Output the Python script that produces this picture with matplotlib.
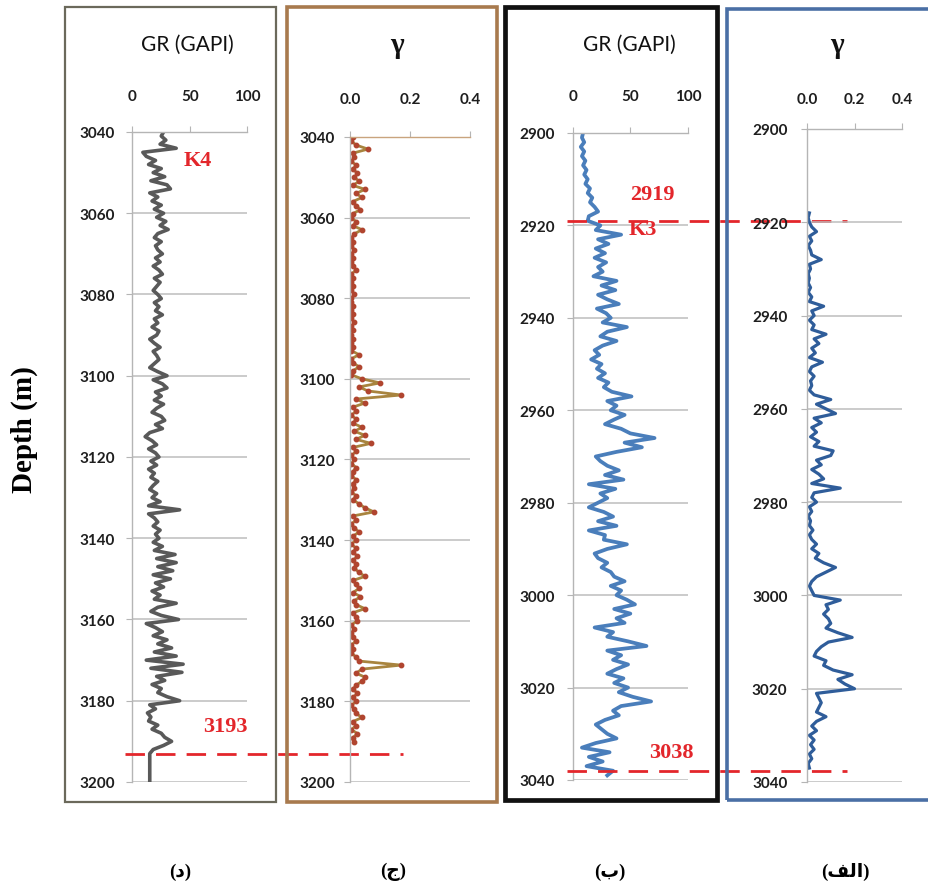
import numpy as np
import matplotlib.pyplot as plt
from matplotlib.patches import Rectangle
from matplotlib.transforms import blended_transform_factory

# --- well D: gamma ray log, 1 m steps from 3040 m ---
gr_d_top = 3040
gr_d = [27, 25, 29, 24, 38, 9, 12, 20, 14, 25,
        18, 28, 16, 30, 33, 15, 22, 17, 25, 19,
        27, 21, 29, 24, 31, 22, 19, 25, 20, 22,
        26, 20, 24, 18, 23, 26, 19, 24, 21, 18,
        22, 25, 19, 23, 20, 26, 19, 22, 17, 23,
        21, 15, 19, 24, 18, 21, 23, 19, 15, 22,
        30, 18, 26, 30, 20, 25, 19, 27, 21, 17,
        25, 28, 20, 26, 15, 11, 17, 21, 14, 20,
        23, 16, 21, 14, 19, 16, 22, 18, 15, 21,
        17, 24, 14, 41, 14, 19, 22, 18, 24, 20,
        23, 18, 26, 19, 37, 21, 38, 22, 35, 18,
        33, 20, 27, 17, 24, 19, 38, 22, 16, 25,
        40, 12, 20, 26, 18, 30, 22, 34, 19, 38,
        12, 44, 16, 43, 21, 28, 17, 25, 22, 30,
        41, 15, 20, 13, 16, 14, 22, 17, 25, 28,
        34, 27, 18, 15, 15, 15, 15, 15, 15, 15, 15]

# --- well D: gamma index ---
gam_d_top = 3040
gam_d = [0.01, 0.005, 0.02, 0.06, 0.01, 0.015, 0.005, 0.02, 0.01, 0.025,
         0.015, 0.03, 0.01, 0.05, 0.02, 0.04, 0.01, 0.02, 0.035, 0.01,
         0.005, 0.02, 0.01, 0.04, 0.015, 0.005, 0.01, 0.005, 0.015, 0.005,
         0.01, 0.005, 0.01, 0.02, 0.005, 0.01, 0.005, 0.01, 0.005, 0.015,
         0.005, 0.005, 0.01, 0.005, 0.01, 0.005, 0.015, 0.005, 0.01, 0.005,
         0.01, 0.005, 0.01, 0.005, 0.03, 0.005, 0.01, 0.03, 0.01, 0.005,
         0.04, 0.1, 0.03, 0.06, 0.17, 0.02, 0.05, 0.01, 0.02, 0.005,
         0.02, 0.01, 0.04, 0.015, 0.05, 0.02, 0.07, 0.01, 0.02, 0.005,
         0.015, 0.005, 0.02, 0.01, 0.005, 0.02, 0.01, 0.015, 0.005, 0.02,
         0.01, 0.03, 0.05, 0.08, 0.01, 0.02, 0.005, 0.015, 0.03, 0.01,
         0.02, 0.005, 0.02, 0.01, 0.025, 0.01, 0.02, 0.015, 0.03, 0.05,
         0.01, 0.02, 0.03, 0.01, 0.035, 0.015, 0.02, 0.05, 0.01, 0.02,
         0.025, 0.005, 0.015, 0.005, 0.01, 0.02, 0.005, 0.01, 0.005, 0.02,
         0.03, 0.17, 0.04, 0.02, 0.05, 0.04, 0.02, 0.01, 0.025, 0.01,
         0.02, 0.005, 0.015, 0.02, 0.04, 0.01, 0.02, 0.005, 0.025, 0.01,
         0.015]

# --- well B: gamma ray log, 1 m steps from 2900 m ---
gr_b_top = 2900
gr_b = [9, 8, 10, 7, 10, 8, 11, 9, 12, 10,
        13, 11, 15, 13, 17, 15, 19, 22, 14, 13,
        24, 20, 42, 22, 31, 20, 28, 19, 29, 22,
        26, 18, 38, 25, 37, 22, 30, 40, 21, 29,
        33, 26, 47, 30, 24, 38, 26, 19, 23, 16,
        25, 21, 28, 22, 31, 27, 34, 51, 30, 38,
        33, 45, 36, 28, 42, 50, 71, 45, 60, 38,
        20, 24, 30, 40, 28, 44, 14, 37, 24, 30,
        22, 14, 27, 35, 22, 38, 14, 28, 27, 47,
        30, 19, 22, 30, 25, 33, 36, 45, 33, 42,
        38, 47, 54, 36, 50, 38, 45, 19, 35, 30,
        48, 64, 30, 42, 35, 48, 38, 30, 44, 36,
        48, 40, 52, 68, 42, 35, 40, 28, 20, 25,
        30, 38, 20, 8, 32, 14, 26, 12, 35, 30]

# --- well B: gamma index, from 2918 m ---
gam_b_top = 2918
gam_b = [0.01, 0.005, 0.01, 0.02, 0.04, 0.01, 0.02, 0.005, 0.015, 0.02,
         0.06, 0.01, 0.015, 0.005, 0.01, 0.005, 0.015, 0.005, 0.02, 0.01,
         0.07, 0.02, 0.03, 0.01, 0.03, 0.02, 0.08, 0.03, 0.05, 0.02,
         0.035, 0.01, 0.065, 0.02, 0.01, 0.03, 0.015, 0.02, 0.01, 0.03,
         0.1, 0.04, 0.08, 0.12, 0.03, 0.06, 0.02, 0.04, 0.015, 0.05,
         0.03, 0.11, 0.1, 0.04, 0.06, 0.02, 0.05, 0.07, 0.02, 0.14,
         0.03, 0.02, 0.04, 0.01, 0.02, 0.005, 0.015, 0.01, 0.025, 0.01,
         0.02, 0.04, 0.02, 0.05, 0.035, 0.07, 0.12, 0.08, 0.04, 0.02,
         0.01, 0.02, 0.03, 0.14, 0.08, 0.09, 0.07, 0.09, 0.1, 0.08,
         0.13, 0.19, 0.09, 0.06, 0.04, 0.03, 0.08, 0.07, 0.11, 0.19,
         0.13, 0.16, 0.2, 0.04, 0.05, 0.06, 0.05, 0.04, 0.08, 0.04,
         0.02, 0.04, 0.01, 0.03, 0.015, 0.03, 0.01, 0.02, 0.005, 0.01]

# formation boundaries (m)
top_k3, base_k3 = 2919, 3038
base_k4 = 3193

# bottom captions, written in display order
captions = ['(\u062f)', '(\u062c)', '(\u0628)', '(\ufed2\ufedf\u0627)']

red = '#e3262b'

fig = plt.figure(figsize=(9.29, 8.95), dpi=100)
W, H = 929, 895


def px_axes(x0, x1, y0, y1):
    return fig.add_axes([x0 / W, 1 - y1 / H, (x1 - x0) / W, (y1 - y0) / H])


def style_panel(ax, xmax, xticks, xlabels, top, bottom, top_color, xpad, ypad):
    ax.set_xlim(0, xmax)
    ax.set_ylim(bottom, top)
    ax.set_yticks(range(top, bottom + 1, 20))
    ax.set_xticks(xticks)
    ax.set_xticklabels(xlabels)
    ax.xaxis.tick_top()
    ax.set_facecolor('none')
    ax.spines['right'].set_visible(False)
    ax.spines['bottom'].set_visible(False)
    ax.spines['left'].set_color('#b5b5b5')
    ax.spines['top'].set_color(top_color)
    for s in ('left', 'top'):
        ax.spines[s].set_linewidth(1.0)
    ax.grid(axis='y', color='#bdbdbd', lw=1.1)
    ax.grid(axis='x', visible=False)
    ax.tick_params(axis='y', length=4, color='#b5b5b5', pad=ypad, labelsize=11, labelcolor='#1e1e1e')
    ax.tick_params(axis='x', length=4, color='#b5b5b5', pad=xpad, labelsize=11, labelcolor='#1e1e1e')
    for lab in ax.get_xticklabels() + ax.get_yticklabels():
        lab.set_fontfamily('Lato')
        lab.set_fontweight('bold')


# frames around each well panel
frames = [((65, 8, 276, 803), '#6b695b', 1.6),
          ((287, 8, 497, 803), '#a87a4e', 2.6),
          ((505, 8, 717, 801), '#111111', 3.4),
          ((727, 10, 940, 801), '#4a6fa5', 2.6)]
for (x0, y0, x1, y1), col, lw in frames:
    fig.patches.append(Rectangle((x0 / W, 1 - y1 / H), (x1 - x0) / W, (y1 - y0) / H,
                                 transform=fig.transFigure, fill=False,
                                 edgecolor=col, lw=lw, zorder=0))

title_kw = dict(ha='center', va='center', fontsize=15, family='Lato', color='#111111')
gamma_kw = dict(ha='center', va='center', fontsize=21, family='Liberation Serif',
                weight='bold', color='#111111')

# (d) gamma ray
ax_d = px_axes(132.5, 247.5, 133, 783)
style_panel(ax_d, 100, [0, 50, 100], ['0', '50', '100'], 3040, 3200, '#b5b5b5', 17, 8.5)
depth = gr_d_top + np.arange(len(gr_d))
ax_d.plot(gr_d, depth, color='#595959', lw=2.6)
ax_d.text(0.48, 1.135, 'GR (GAPI)', transform=ax_d.transAxes, **title_kw)

# (c) gamma index
ax_c = px_axes(350, 470, 138, 783)
style_panel(ax_c, 0.4, [0, 0.2, 0.4], ['0.0', '0.2', '0.4'], 3040, 3200, '#c9a47e', 18, 7)
depth = gam_d_top + np.arange(len(gam_d))
ax_c.plot(gam_d, depth, color='#a8843e', lw=2.0, marker='o', ms=3.2,
          mfc='#b0452f', mec='#b0452f')
ax_c.text(0.39, 1.143, '\u03b3', transform=ax_c.transAxes, **gamma_kw)

# (b) gamma ray
ax_b = px_axes(572.7, 688, 134, 781)
style_panel(ax_b, 100, [0, 50, 100], ['0', '50', '100'], 2900, 3040, '#b5b5b5', 17.5, 8.7)
depth = gr_b_top + np.arange(len(gr_b))
ax_b.plot(gr_b, depth, color='#4a7ebb', lw=2.7)
ax_b.text(0.49, 1.138, 'GR (GAPI)', transform=ax_b.transAxes, **title_kw)

# (a) gamma index
ax_a = px_axes(807, 902, 130, 783)
style_panel(ax_a, 0.4, [0, 0.2, 0.4], ['0.0', '0.2', '0.4'], 2900, 3040, '#b5b5b5', 12.5, 10)
depth = gam_b_top + np.arange(len(gam_b))
ax_a.plot(gam_b, depth, color='#2f5d9a', lw=2.3)
ax_a.text(0.32, 1.129, '\u03b3', transform=ax_a.transAxes, **gamma_kw)

# formation boundaries as dashed lines across neighbouring panels
dash = dict(color=red, lw=2.0, ls=(0, (7, 4)), clip_on=False, zorder=5)
tr = blended_transform_factory(fig.transFigure, ax_d.transData)
ax_d.plot([125 / W, 403 / W], [base_k4, base_k4], transform=tr, **dash)
tr = blended_transform_factory(fig.transFigure, ax_b.transData)
ax_b.plot([567 / W, 847 / W], [top_k3, top_k3], transform=tr, **dash)
ax_b.plot([567 / W, 847 / W], [base_k3, base_k3], transform=tr, **dash)

lab = dict(color=red, fontsize=16, family='Liberation Serif', weight='bold',
           ha='center', va='center', clip_on=False, zorder=6)
ax_d.text(57, 3047, 'K4', **lab)
ax_d.text(81, 3186.2, str(base_k4), **lab)
ax_b.text(69, 2913.2, str(top_k3), **lab)
ax_b.text(61, 2920.8, 'K3', **lab)
ax_b.text(86, 3034, str(base_k3), **lab)

fig.text(24.5 / W, 1 - 430 / H, 'Depth (m)', rotation=90, ha='center', va='center',
         fontsize=21, family='Liberation Serif', weight='bold')

for cx, cap in zip([180, 393, 610, 845], captions):
    fig.text(cx / W, 1 - 872 / H, cap, ha='center', va='center', fontsize=13.5,
             family=['Liberation Serif', 'DejaVu Sans'], weight='bold')

fig.savefig('out.png', dpi=100)
